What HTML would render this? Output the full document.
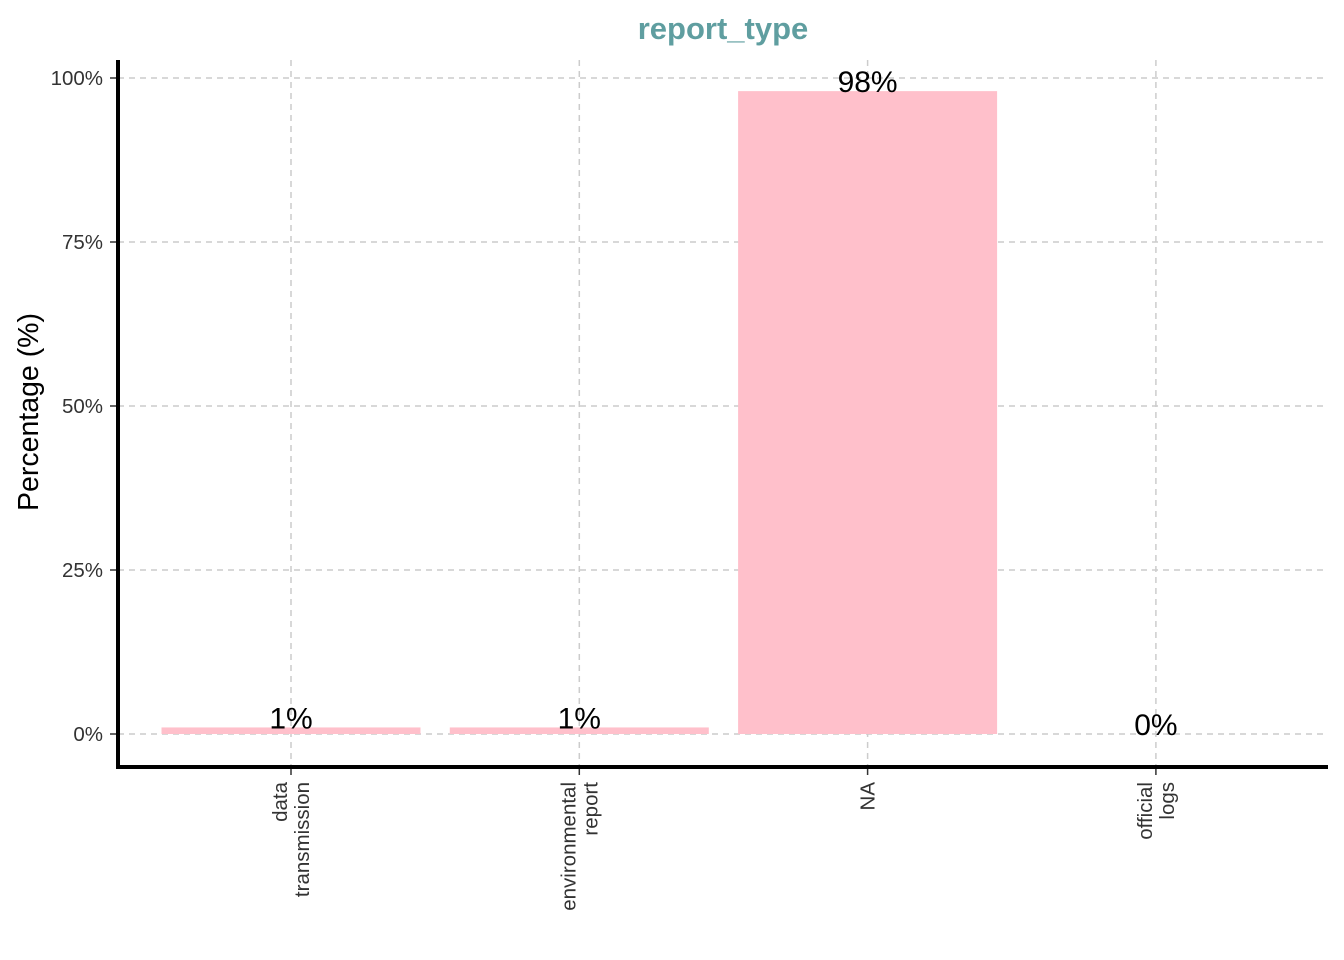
<!DOCTYPE html>
<html><head><meta charset="utf-8"><style>body{margin:0;background:#fff}svg{display:block}text{font-family:"Liberation Sans",Arial,sans-serif}</style></head>
<body>
<svg id="chart" width="1344" height="960">
<text x="723" y="39" text-anchor="middle" font-size="31" font-weight="bold" fill="#5F9EA0">report_type</text>
<text transform="translate(38,412) rotate(-90)" text-anchor="middle" font-size="28.5" fill="#000">Percentage (%)</text>
<g id="grid"></g><g id="bars"></g><g id="axes"></g>
</svg>
<script>
const categories=[["data","transmission"],["environmental","report"],["NA"],["official","logs"]];
const values=[1,1,98,0];
const labels=["1%","1%","98%","0%"];
const yTicks=[0,25,50,75,100];
const yTickLabels=["0%","25%","50%","75%","100%"];
const ns="http://www.w3.org/2000/svg";
const X0=118,X1=1328,Ytop=60,Ybot=767;
const y=v=>734-v*6.56;
const x=i=>291+i*288.3;
const bw=259;
function mk(t,a,p){const e=document.createElementNS(ns,t);for(const k in a)e.setAttribute(k,a[k]);p.appendChild(e);return e;}
const grid=document.getElementById('grid'),bars=document.getElementById('bars'),axes=document.getElementById('axes');
yTicks.forEach((t,i)=>{
 const l=mk('line',{x1:X0,x2:X1,y1:y(t),y2:y(t),stroke:'#cccccc','stroke-width':1.5,'stroke-dasharray':'6,5'},grid);
 
 
 const tk=mk('line',{x1:110,x2:118,y1:y(t),y2:y(t),stroke:'#333','stroke-width':1.5},axes);
 
 
 const tx=mk('text',{x:103,y:y(t)+7,'text-anchor':'end','font-size':20.5,fill:'#333'},axes);
 tx.textContent=yTickLabels[i];
 
 
});
categories.forEach((c,i)=>{
 const l=mk('line',{x1:x(i),x2:x(i),y1:Ytop,y2:Ybot,stroke:'#cccccc','stroke-width':1.5,'stroke-dasharray':'6,5'},grid);
 
 
 if(values[i]>0){
 const r=mk('rect',{x:x(i)-bw/2,y:y(values[i]),width:bw,height:y(0)-y(values[i]),fill:'#FFC0CB'},bars);
 
 
 }
 const t=mk('text',{x:x(i),y:y(values[i])+1,'text-anchor':'middle','font-size':30,fill:'#000'},bars);
 t.textContent=labels[i];
 
 
 const tk=mk('line',{x1:x(i),x2:x(i),y1:767,y2:775,stroke:'#333','stroke-width':1.5},axes);
 
 
 const n=c.length;
 c.forEach((s,j)=>{
  const lx=x(i)+7+(j-(n-1)/2)*22;
  const tx=mk('text',{transform:`translate(${lx},782) rotate(-90)`,'text-anchor':'end','font-size':20.5,fill:'#333'},axes);
  tx.textContent=s;
  
  
 });
});
const ay=mk('line',{x1:118,x2:118,y1:60,y2:769,stroke:'#000','stroke-width':4},axes);


const ax=mk('line',{x1:116,x2:1328,y1:767,y2:767,stroke:'#000','stroke-width':4},axes);


</script>
</body></html>
